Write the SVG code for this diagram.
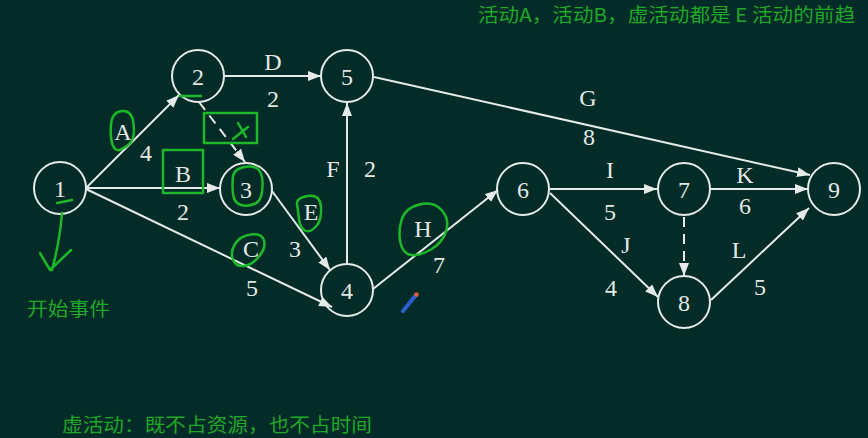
<svg xmlns="http://www.w3.org/2000/svg" width="868" height="438" viewBox="0 0 868 438">
<style>
.node circle{fill:none;stroke:#e6ebe9;stroke-width:2}
.node text,.lbl{font-family:"Liberation Serif","DejaVu Serif",serif;font-size:24px;fill:#e2e8e6;text-anchor:middle}
.edge{stroke:#e6ebe9;stroke-width:2;fill:none}
.dash{stroke-dasharray:10 7}
.ink{fill:none;stroke:#1db82a;stroke-width:2.5;stroke-linecap:round;stroke-linejoin:round}
.note{font-family:"Noto Sans CJK SC","Noto Sans",sans-serif;font-size:19px;fill:#1fa82a}
</style>
<defs>
<marker id="ah" markerUnits="userSpaceOnUse" markerWidth="14" markerHeight="10" refX="13" refY="5" orient="auto">
<path d="M0,0 L13,5 L0,10 Z" fill="#e6ebe9"/>
</marker>
</defs>
<rect width="868" height="438" fill="#032b27"/>

<g id="connectors">
<line class="edge" x1="86" y1="188" x2="179" y2="95" marker-end="url(#ah)"/>
<line class="edge" x1="86" y1="188" x2="220" y2="188" marker-end="url(#ah)"/>
<line class="edge" x1="86" y1="189" x2="332" y2="307" marker-end="url(#ah)"/>
<line class="edge" x1="224" y1="76" x2="321" y2="76" marker-end="url(#ah)"/>
<line class="edge dash" x1="199" y1="102" x2="245" y2="162" marker-end="url(#ah)"/>
<line class="edge" x1="272" y1="191" x2="330" y2="270" marker-end="url(#ah)"/>
<line class="edge" x1="347" y1="264" x2="347" y2="103" marker-end="url(#ah)"/>
<line class="edge" x1="374" y1="77" x2="810" y2="175" marker-end="url(#ah)"/>
<line class="edge" x1="373" y1="289" x2="498" y2="190" marker-end="url(#ah)"/>
<line class="edge" x1="550" y1="189" x2="657" y2="189" marker-end="url(#ah)"/>
<line class="edge" x1="550" y1="193" x2="658" y2="297" marker-end="url(#ah)"/>
<line class="edge" x1="710" y1="189" x2="808" y2="189" marker-end="url(#ah)"/>
<line class="edge dash" x1="684" y1="217" x2="684" y2="276" marker-end="url(#ah)"/>
<line class="edge" x1="711" y1="300" x2="809" y2="208" marker-end="url(#ah)"/>
<text class="lbl" x="273" y="70">D</text>
<text class="lbl" x="273" y="107">2</text>
<text class="lbl" x="123" y="140">A</text>
<text class="lbl" x="146" y="161">4</text>
<text class="lbl" x="183" y="182">B</text>
<text class="lbl" x="183" y="220">2</text>
<text class="lbl" x="251" y="257">C</text>
<text class="lbl" x="252" y="296">5</text>
<text class="lbl" x="311" y="220">E</text>
<text class="lbl" x="295" y="257">3</text>
<text class="lbl" x="333" y="177">F</text>
<text class="lbl" x="370" y="177">2</text>
<text class="lbl" x="423" y="237">H</text>
<text class="lbl" x="439" y="273">7</text>
<text class="lbl" x="588" y="106">G</text>
<text class="lbl" x="589" y="145">8</text>
<text class="lbl" x="610" y="178">I</text>
<text class="lbl" x="610" y="220">5</text>
<text class="lbl" x="745" y="183">K</text>
<text class="lbl" x="745" y="214">6</text>
<text class="lbl" x="626" y="253">J</text>
<text class="lbl" x="611" y="296">4</text>
<text class="lbl" x="739" y="258">L</text>
<text class="lbl" x="760" y="295">5</text>
</g>

<g id="node1" class="node"><circle cx="60" cy="188" r="26"/><text x="60" y="197">1</text></g>
<g id="node2" class="node"><circle cx="198" cy="76" r="26"/><text x="198" y="85">2</text></g>
<g id="node3" class="node"><circle cx="246" cy="189" r="26"/><text x="246" y="198">3</text></g>
<g id="node4" class="node"><circle cx="347" cy="290" r="26"/><text x="347" y="299">4</text></g>
<g id="node5" class="node"><circle cx="347" cy="76" r="26"/><text x="347" y="85">5</text></g>
<g id="node6" class="node"><circle cx="523" cy="189" r="26"/><text x="523" y="198">6</text></g>
<g id="node7" class="node"><circle cx="684" cy="189" r="26"/><text x="684" y="198">7</text></g>
<g id="node8" class="node"><circle cx="684" cy="302" r="26"/><text x="684" y="311">8</text></g>
<g id="node9" class="node"><circle cx="834" cy="189" r="26"/><text x="834" y="198">9</text></g>

<g id="annotations">
<path class="ink" d="M122,111 Q132,110 133.5,123.5 Q135,137 131,142 Q127,147 121,149.5 Q115,152 112.5,144.5 Q110,137 111,124.5 Q112,112 122,111 Z"/>
<path class="ink" d="M248,166.5 Q262,165 262.5,182.5 Q263,200 255.5,203.5 Q248,207 241,205 Q234,203 233,194 Q232,185 233,176.5 Q234,168 248,166.5 Z"/>
<path class="ink" d="M251,234.5 Q262,233 264,240.5 Q266,248 259,256.5 Q252,265 244,266 Q236,267 233,259.5 Q230,252 235,244 Q240,236 251,234.5 Z"/>
<path class="ink" d="M308,196 Q320,194 321,207 Q322,220 316,226.5 Q310,233 305,230.5 Q300,228 299,219 Q298,210 297,204 Q296,198 308,196 Z"/>
<path class="ink" d="M419.5,204.5 Q434,201 442,210.5 Q450,220 446,231.5 Q442,243 431,249.5 Q420,256 411.5,255 Q403,254 400.5,243 Q398,232 401.5,220 Q405,208 419.5,204.5 Z"/>
<rect class="ink" x="204" y="113" width="53" height="30"/>
<rect class="ink" x="163" y="150" width="40" height="43"/>
<path class="ink" d="M238,123 L246,137 M233,139 L248,127"/>
<path class="ink" d="M180,96 L201,96"/>
<path class="ink" d="M57,203 L72,200"/>
<path class="ink" d="M62,213 Q60,240 52,270 M40,253 L50,270 L71,250"/>
<text class="note" x="478" y="22" textLength="377" lengthAdjust="spacingAndGlyphs">活动A，活动B，虚活动都是 E 活动的前趋</text>
<text class="note" x="27" y="316" textLength="83" lengthAdjust="spacingAndGlyphs">开始事件</text>
<text class="note" x="62" y="432" textLength="310" lengthAdjust="spacingAndGlyphs">虚活动：既不占资源，也不占时间</text>
<path d="M403,311 L416,295" stroke="#2d5fd0" stroke-width="4" stroke-linecap="round"/>
<circle cx="416.5" cy="294.5" r="2.2" fill="#e0603a"/>
</g>
</svg>
